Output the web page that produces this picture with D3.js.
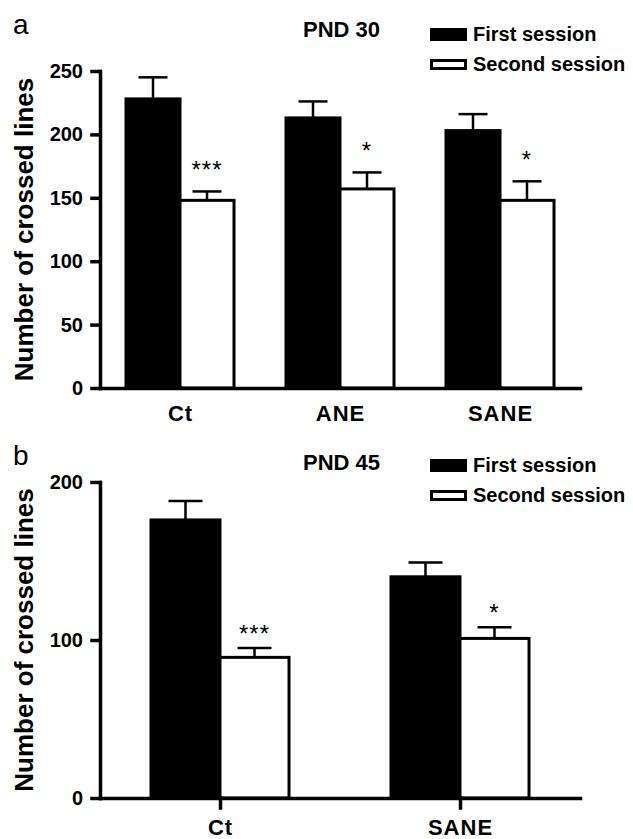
<!DOCTYPE html>
<html lang="en">
<head>
<meta charset="UTF-8">
<title>Crossed lines PND 30 / PND 45</title>
<script src="https://d3js.org/d3.v7.min.js"></script>
<style>
  body { margin: 0; background: #fff; }
  text { font-family: "Liberation Sans", Arial, sans-serif; fill: #000; }
</style>
</head>
<body>
<script>
// panel a: PND 30
const groupsA = ["Ct", "ANE", "SANE"];
const firstA = [228, 213, 203];
const firstErrA = [17, 13, 13];
const secondA = [148, 157, 148];
const secondErrA = [7, 13, 15];
const starsA = ["***", "*", "*"];
const ticksA = [0, 50, 100, 150, 200, 250];

// panel b: PND 45
const groupsB = ["Ct", "SANE"];
const firstB = [176, 140];
const firstErrB = [12, 9];
const secondB = [89, 101];
const secondErrB = [6, 7];
const starsB = ["***", "*"];
const ticksB = [0, 100, 200];

const legendLabels = ["First session", "Second session"];

var svg = d3.select("body").append("svg")
    .attr("width", 633)
    .attr("height", 839);

function drawPanel(p) {
    var g = svg.append("g");

    var y = d3.scaleLinear().domain([0, p.max]).range([p.bottom, p.top]);
    var x = d3.scalePoint().domain(p.groups).range([100, 580]).padding(0.5);

    // panel letter
    g.append("text")
        .attr("x", 13).attr("y", p.letterY)
        .style("font-size", "28px")
        .text(p.letter);

    // y axis title
    g.append("text")
        .attr("transform", "translate(33," + ((p.top + p.bottom) / 2) + ") rotate(-90)")
        .attr("text-anchor", "middle")
        .style("font-size", "26px")
        .style("font-weight", "bold")
        .text("Number of crossed lines");

    // title
    g.append("text")
        .attr("x", 303).attr("y", p.titleY)
        .style("font-size", "22px")
        .style("font-weight", "bold")
        .text(p.title);

    // legend
    legendLabels.forEach(function (lab, i) {
        var ly = p.legendY + i * 30;
        if (i === 0) {
            g.append("rect").attr("x", 430).attr("y", ly - 13).attr("width", 37).attr("height", 13)
                .attr("fill", "#000");
        } else {
            g.append("rect").attr("x", 431.5).attr("y", ly - 10.5).attr("width", 34).attr("height", 8)
                .attr("fill", "#fff").attr("stroke", "#000").attr("stroke-width", 3);
        }
        g.append("text")
            .attr("x", 473).attr("y", ly)
            .style("font-size", "20px")
            .style("font-weight", "bold")
            .text(lab);
    });

    var rows = p.groups.map(function (d, i) {
        return { g: d, v1: p.first[i], e1: p.firstErr[i], v2: p.second[i], e2: p.secondErr[i], star: p.stars[i] };
    });

    // bars
    var bars = g.selectAll(".grp").data(rows).enter().append("g").attr("class", "grp");
    bars.append("rect")
        .attr("x", d => x(d.g) - p.barW)
        .attr("y", d => y(d.v1))
        .attr("width", p.barW)
        .attr("height", d => y(0) - y(d.v1))
        .attr("fill", "#000").attr("stroke", "#000").attr("stroke-width", 3);
    bars.append("rect")
        .attr("x", d => x(d.g))
        .attr("y", d => y(d.v2))
        .attr("width", p.barW)
        .attr("height", d => y(0) - y(d.v2))
        .attr("fill", "#fff").attr("stroke", "#000").attr("stroke-width", 3);

    // error bars (upper only)
    [["v1", "e1", -0.5], ["v2", "e2", 0.5]].forEach(function (k) {
        bars.append("line")
            .attr("x1", d => x(d.g) + k[2] * p.barW).attr("x2", d => x(d.g) + k[2] * p.barW)
            .attr("y1", d => y(d[k[0]])).attr("y2", d => y(d[k[0]] + d[k[1]]))
            .attr("stroke", "#000").attr("stroke-width", 2.5);
        bars.append("line")
            .attr("x1", d => x(d.g) + k[2] * p.barW - p.capW / 2)
            .attr("x2", d => x(d.g) + k[2] * p.barW + p.capW / 2)
            .attr("y1", d => y(d[k[0]] + d[k[1]])).attr("y2", d => y(d[k[0]] + d[k[1]]))
            .attr("stroke", "#000").attr("stroke-width", 2.5);
    });

    // significance stars
    bars.append("text")
        .attr("x", d => x(d.g) + p.barW / 2)
        .attr("y", d => y(d.v2 + d.e2) - p.starGap)
        .attr("text-anchor", "middle")
        .style("font-size", "24px")
        .style("letter-spacing", "1px")
        .text(d => d.star);

    // axes
    var yAxis = g.append("g")
        .attr("transform", "translate(100,0)")
        .call(d3.axisLeft(y).tickValues(p.ticks).tickSize(8).tickSizeOuter(0).tickPadding(9));
    yAxis.selectAll("text").style("font-size", "20px").style("font-weight", "bold")
        .style("font-family", "Liberation Sans, Arial, sans-serif");

    var xAxis = g.append("g")
        .attr("transform", "translate(0," + p.bottom + ")")
        .call(d3.axisBottom(x).tickSize(p.xTick).tickSizeOuter(0));
    xAxis.selectAll("text")
        .attr("y", p.xLabelOff).attr("dy", 0)
        .style("font-size", "22px").style("font-weight", "bold")
        .style("letter-spacing", "1px")
        .style("font-family", "Liberation Sans, Arial, sans-serif");

    g.selectAll(".domain, .tick line")
        .style("stroke", "#000").style("stroke-width", "3.5px")
        .style("stroke-linecap", "square");
}

drawPanel({
    groups: groupsA, first: firstA, firstErr: firstErrA, second: secondA, secondErr: secondErrA,
    stars: starsA, ticks: ticksA, max: 250,
    top: 71, bottom: 388, barW: 54, capW: 29, starGap: 13,
    xTick: 0, xLabelOff: 33,
    letter: "a", letterY: 34, title: "PND 30", titleY: 37, legendY: 41
});

drawPanel({
    groups: groupsB, first: firstB, firstErr: firstErrB, second: secondB, secondErr: secondErrB,
    stars: starsB, ticks: ticksB, max: 200,
    top: 482, bottom: 798, barW: 69, capW: 34, starGap: 6,
    xTick: 10, xLabelOff: 37,
    letter: "b", letterY: 465, title: "PND 45", titleY: 470, legendY: 472
});
</script>
</body>
</html>
